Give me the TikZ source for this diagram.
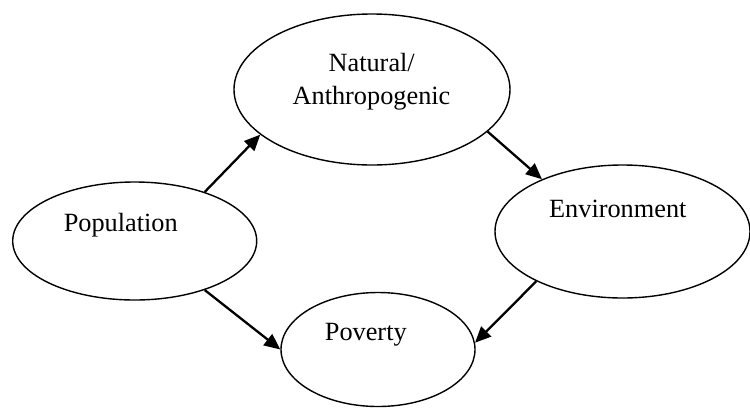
\documentclass[tikz,border=0pt]{standalone}
\usepackage{fontspec}
\setmainfont{Liberation Serif}
\usetikzlibrary{shapes.geometric,arrows.meta}
\begin{document}
\begin{tikzpicture}[x=1pt,y=-1pt,
  oval/.style={draw,ellipse,line width=1.4pt,inner sep=0pt},
  lbl/.style={anchor=base,inner sep=0pt,font=\fontsize{26.3}{32}\selectfont},
  conn/.style={line width=2.3pt,-{Triangle[length=16pt,width=14pt]}}]
\useasboundingbox (0,0) rectangle (750,408);
\node[oval,minimum width=276pt,minimum height=151pt] (nat) at (372,89.5) {};
\node[oval,minimum width=244pt,minimum height=118pt] (pop) at (134.7,241) {};
\node[oval,minimum width=255pt,minimum height=133pt] (env) at (622.5,231.5) {};
\node[oval,minimum width=194pt,minimum height=114pt] (pov) at (378,349.5) {};
\node[lbl] (t1) at (371.7,71.7) {Natural/};
\node[lbl] (t2) at (371.5,104.3) {Anthropogenic};
\node[lbl] (t3) at (120.8,231.7) {Population};
\node[lbl] (t4) at (617.8,217.3) {Environment};
\node[lbl] (t5) at (365.8,340) {Poverty};
\draw[conn] (pop.35.8) -- (nat.202.1);
\draw[conn] (nat.-20.2) -- (env.147.1);
\draw[conn] (pop.-35.2) -- (pov.180);
\draw[conn] (env.210.3) -- (pov.4.6);
\end{tikzpicture}
\end{document}
